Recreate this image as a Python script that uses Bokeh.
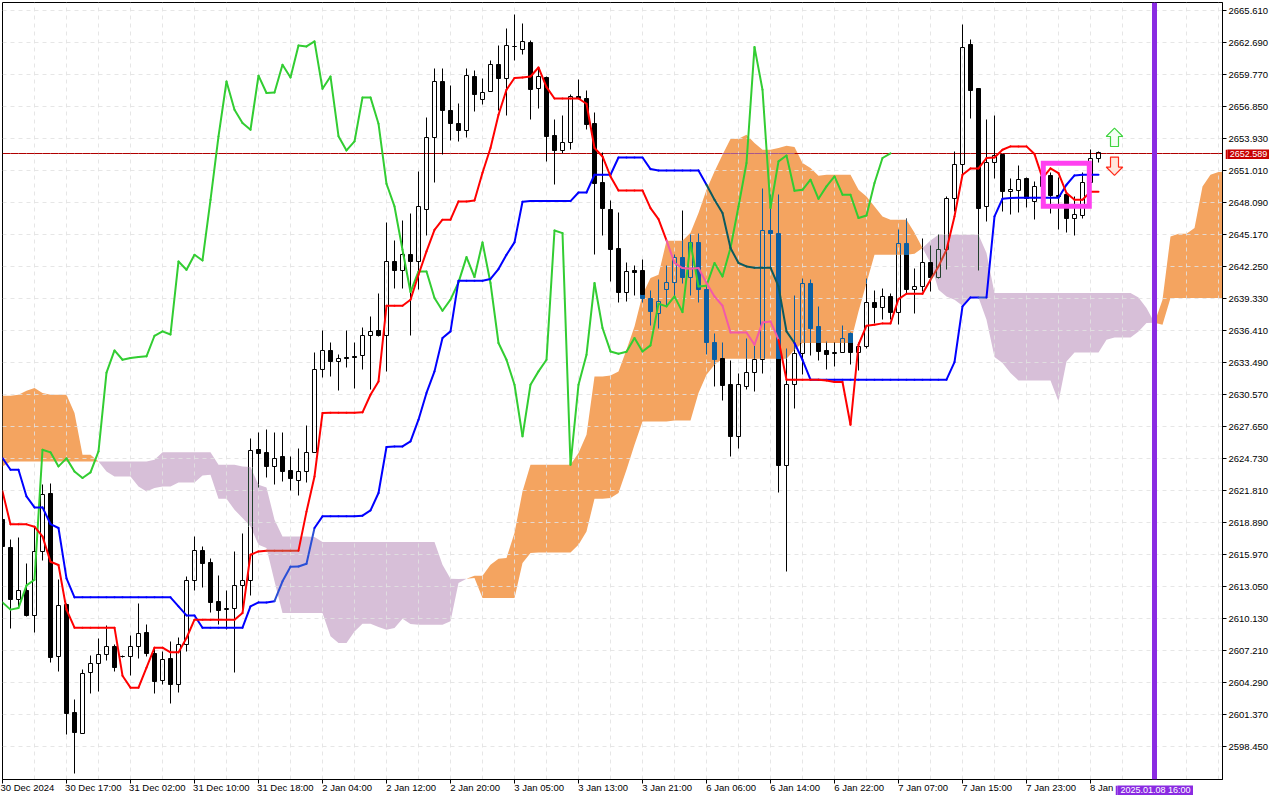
from bokeh.plotting import figure
from bokeh.embed import file_html
from bokeh.resources import INLINE
from bokeh.layouts import column
from bokeh.core.properties import value
from bokeh.models import Range1d, FixedTicker, NumeralTickFormatter, Span

opens = [
2619.15,2616.59,2611.88,2612.73,2610.36,2616.20,2621.52,2606.62,2611.39,2601.54,
2599.68,2605.16,2605.98,2606.89,2607.53,2606.69,2606.62,2607.53,2608.81,2606.98,
2604.43,2606.52,2604.15,2607.80,2613.64,2616.38,2615.22,2611.66,2610.91,2611.05,
2613.10,2613.64,2625.53,2625.26,2624.01,2624.89,2623.62,2622.68,2623.50,2625.32,
2632.89,2634.63,2633.59,2633.93,2634.02,2634.14,2635.91,2636.39,2635.98,2642.75,
2641.89,2643.39,2642.71,2647.49,2654.06,2659.17,2656.53,2655.34,2654.66,2659.63,
2657.53,2658.26,2660.72,2659.45,2662.33,2662.09,2662.73,2658.53,2659.54,2654.18,
2652.84,2653.57,2657.77,2657.56,2655.28,2649.89,2647.43,2643.87,2639.88,2641.84,
2641.84,2639.31,2638.00,2640.19,2640.83,2643.11,2641.25,2644.48,2640.19,2635.36,
2633.81,2631.44,2626.75,2631.34,2632.62,2633.72,2645.58,2645.30,2624.10,2631.44,
2634.27,2640.74,2636.75,2634.54,2634.27,2634.41,2636.18,2634.41,2634.96,2638.92,
2638.55,2639.55,2638.06,2644.39,2640.16,2640.43,2642.57,2641.29,2643.84,2648.41,
2651.60,2662.55,2658.47,2647.68,2651.78,2652.45,2649.10,2649.19,2650.32,2648.19,
2649.59,2650.53,2648.73,2648.80,2646.67,2646.91,2649.95,2652.14]
closes = [
2616.68,2611.88,2612.73,2610.41,2616.23,2621.49,2606.58,2611.36,2601.47,2599.74,
2605.07,2605.98,2606.89,2607.53,2605.67,2606.64,2607.62,2608.72,2606.95,2604.39,
2606.43,2604.15,2607.80,2613.64,2616.38,2615.16,2611.60,2610.87,2611.05,2613.10,
2613.64,2625.50,2625.19,2624.01,2624.77,2623.55,2622.91,2623.50,2625.32,2632.89,
2634.63,2633.59,2633.90,2633.86,2633.97,2635.91,2636.36,2635.96,2642.75,2641.89,
2643.39,2642.71,2647.68,2654.06,2659.17,2656.49,2655.30,2654.66,2659.72,2657.95,
2658.13,2660.72,2659.41,2662.46,2662.28,2662.82,2658.41,2659.63,2654.12,2652.84,
2653.57,2657.77,2657.62,2655.20,2649.80,2647.52,2643.84,2639.88,2641.75,2641.72,
2639.37,2638.15,2639.06,2640.83,2643.11,2641.25,2644.48,2640.13,2635.33,2633.77,
2631.40,2626.75,2631.44,2632.62,2633.72,2645.58,2645.27,2624.10,2631.44,2634.27,
2640.74,2636.57,2634.50,2634.23,2634.41,2635.72,2634.41,2634.99,2638.92,2638.52,
2639.52,2638.06,2644.39,2640.16,2640.47,2642.57,2641.25,2643.84,2648.41,2651.60,
2662.27,2658.32,2647.52,2651.78,2652.42,2649.10,2649.32,2650.23,2648.41,2649.59,
2650.50,2648.73,2648.68,2646.64,2646.95,2649.95,2652.11,2652.63]
highs = [
2619.60,2617.38,2617.50,2615.13,2618.41,2622.34,2622.49,2613.73,2611.54,2602.78,
2605.52,2606.74,2608.29,2609.47,2607.74,2606.74,2608.56,2611.48,2609.57,2607.47,
2607.08,2608.01,2608.44,2613.97,2617.57,2616.66,2615.65,2614.03,2612.67,2616.20,
2617.87,2626.51,2627.06,2627.36,2627.06,2627.06,2624.87,2625.60,2627.78,2634.36,
2636.39,2635.27,2634.20,2636.39,2635.32,2636.66,2637.67,2639.83,2646.22,2644.60,
2646.43,2647.13,2650.96,2655.82,2660.36,2660.36,2658.81,2657.10,2660.36,2660.11,
2659.45,2661.02,2662.46,2664.01,2665.29,2664.40,2662.85,2660.36,2659.56,2655.70,
2656.00,2657.92,2659.29,2658.29,2656.34,2652.63,2648.25,2647.22,2642.57,2642.32,
2642.87,2640.04,2641.04,2642.32,2643.32,2647.34,2645.21,2645.30,2640.77,2636.11,
2635.27,2633.65,2632.47,2635.66,2635.05,2649.34,2648.80,2648.86,2634.75,2639.58,
2641.13,2641.04,2638.58,2635.45,2635.36,2636.85,2636.21,2635.30,2641.13,2640.10,
2640.22,2639.77,2645.67,2646.67,2642.11,2644.78,2644.15,2645.15,2648.64,2652.72,
2664.31,2662.94,2658.47,2655.64,2656.01,2652.45,2650.32,2651.44,2650.35,2650.05,
2651.00,2650.83,2650.35,2648.80,2648.64,2650.81,2652.97,2652.72]
lows = [
2615.95,2609.23,2611.23,2610.32,2608.86,2615.43,2606.12,2605.28,2599.56,2596.00,
2599.68,2603.30,2603.45,2606.30,2605.28,2606.55,2604.94,2606.46,2606.62,2603.30,
2604.12,2602.38,2603.39,2607.13,2612.70,2612.97,2610.69,2609.59,2609.17,2605.21,
2610.66,2612.21,2622.09,2622.98,2622.37,2622.64,2621.82,2621.36,2622.55,2625.26,
2632.13,2632.22,2630.94,2633.04,2631.12,2632.86,2631.00,2635.87,2632.68,2640.25,
2640.25,2635.96,2640.19,2645.08,2649.92,2652.48,2653.75,2653.66,2654.03,2656.40,
2657.01,2658.20,2656.49,2656.03,2661.05,2661.57,2655.67,2656.67,2651.84,2649.71,
2652.60,2652.90,2657.56,2654.73,2643.32,2645.06,2640.89,2638.97,2639.06,2639.61,
2638.97,2636.87,2636.57,2638.61,2639.37,2640.74,2639.61,2638.97,2634.23,2631.31,
2630.03,2624.92,2625.65,2631.00,2630.85,2632.49,2642.14,2621.64,2614.43,2629.30,
2632.37,2634.14,2633.65,2632.83,2633.10,2634.41,2633.29,2632.77,2634.75,2637.09,
2637.39,2637.39,2636.96,2639.67,2637.97,2639.98,2639.98,2641.20,2642.02,2647.25,
2650.62,2655.76,2641.89,2646.36,2650.26,2647.25,2646.97,2647.18,2647.61,2646.52,
2648.50,2647.13,2645.60,2645.39,2645.08,2646.61,2649.89,2651.72]

tenkan = [
2621.73,2618.72,2618.72,2618.72,2618.51,2617.62,2615.31,2615.01,2610.94,2609.29,
2609.29,2609.29,2609.29,2609.29,2609.29,2604.91,2603.82,2603.82,2605.64,2607.47,
2607.47,2607.04,2607.04,2608.35,2610.02,2610.02,2610.02,2610.02,2610.02,2610.02,
2610.63,2615.95,2616.25,2616.32,2616.32,2616.32,2616.32,2616.32,2619.88,2623.09,
2628.88,2628.91,2628.91,2628.91,2628.91,2628.94,2630.55,2631.76,2638.67,2638.67,
2638.67,2639.22,2641.50,2643.63,2645.60,2646.52,2646.52,2648.19,2648.19,2648.28,
2650.80,2653.06,2656.10,2658.38,2659.45,2659.50,2659.59,2660.41,2658.62,2657.58,
2657.58,2657.58,2657.58,2657.10,2653.06,2652.29,2650.47,2649.19,2649.19,2649.19,
2649.19,2647.58,2646.58,2644.63,2642.57,2642.11,2642.05,2642.11,2640.74,2639.52,
2638.67,2636.23,2636.23,2636.23,2635.11,2637.15,2637.24,2635.57,2631.92,2631.92,
2631.92,2631.92,2631.92,2631.85,2631.71,2631.71,2627.81,2635.11,2636.85,2636.94,
2637.06,2637.06,2639.28,2639.76,2639.76,2639.76,2641.04,2642.26,2643.78,2646.82,
2650.62,2651.20,2651.20,2652.15,2652.20,2652.90,2653.21,2653.21,2653.21,2652.51,
2650.32,2651.20,2650.78,2648.95,2648.34,2648.34,2649.07,2649.07]
kijun = [
2624.77,2623.70,2623.70,2621.27,2620.27,2620.27,2618.75,2618.39,2613.79,2612.06,
2612.06,2612.06,2612.06,2612.06,2612.06,2612.06,2612.06,2612.06,2612.06,2612.06,
2612.06,2612.06,2611.23,2610.41,2610.41,2609.29,2609.29,2609.29,2609.29,2609.29,
2609.29,2611.23,2611.60,2611.60,2611.71,2613.52,2614.86,2614.88,2615.13,2618.39,
2619.45,2619.45,2619.45,2619.45,2619.45,2619.51,2619.99,2621.58,2625.78,2625.83,
2625.83,2626.29,2628.27,2630.71,2632.68,2635.73,2636.33,2640.95,2640.95,2640.95,
2640.95,2641.11,2642.02,2643.32,2644.45,2648.16,2648.22,2648.22,2648.22,2648.22,
2648.22,2648.22,2649.00,2649.00,2650.62,2650.62,2650.62,2652.20,2652.20,2652.20,
2652.20,2651.14,2651.02,2651.02,2651.02,2651.02,2651.02,2651.02,2649.71,2648.34,
2647.13,2643.94,2642.57,2642.26,2642.14,2642.14,2642.14,2640.43,2636.33,2635.27,
2633.74,2631.92,2631.92,2631.92,2631.92,2631.92,2631.92,2631.92,2631.92,2631.92,
2631.92,2631.92,2631.92,2631.92,2631.92,2631.92,2631.92,2631.92,2631.92,2633.53,
2638.61,2639.43,2639.43,2639.43,2646.82,2648.43,2648.50,2648.52,2648.52,2648.52,
2648.52,2648.52,2648.52,2649.71,2650.56,2650.62,2650.62,2650.62]
chikou = [
2611.60,2610.94,2611.09,2613.15,2613.67,2625.53,2625.29,2624.01,2624.74,2623.55,
2622.95,2623.46,2625.38,2632.56,2634.59,2633.74,2633.90,2633.99,2634.05,2635.93,
2636.33,2636.05,2642.71,2641.95,2643.32,2642.80,2648.34,2654.12,2659.13,2656.55,
2655.34,2654.73,2659.66,2658.08,2658.13,2660.66,2659.50,2662.42,2662.33,2662.79,
2658.47,2659.59,2654.14,2652.84,2653.66,2657.68,2657.68,2655.28,2649.80,2647.73,
2643.78,2639.92,2641.80,2641.80,2639.37,2638.21,2639.22,2640.80,2643.11,2641.29,
2644.45,2640.74,2635.27,2633.74,2631.46,2626.75,2631.46,2632.68,2633.74,2645.54,
2645.30,2624.16,2631.46,2634.20,2640.74,2636.64,2634.50,2634.29,2634.47,2635.72,
2634.50,2635.05,2638.85,2638.61,2639.52,2638.09,2644.39,2640.43,2640.50,2642.57,
2641.34,2643.94,2647.73,2651.69,2662.27,2658.38,2647.59,2651.84,2652.38,2649.16,
2649.25,2650.17,2648.43,2649.56,2650.47,2648.80,2648.80,2646.67,2646.91,2649.87,
2652.15,2652.57]
span_a = [
2630.46,2630.46,2630.55,2630.92,2631.16,2630.71,2630.55,2630.55,2630.55,2628.88,
2625.08,2625.08,2624.46,2623.55,2623.09,2623.09,2623.09,2622.18,2621.73,2622.04,
2622.18,2622.18,2622.55,2622.55,2622.55,2623.19,2623.25,2621.06,2621.06,2620.06,
2619.30,2618.53,2616.86,2616.56,2613.52,2610.63,2610.63,2610.63,2610.63,2610.63,
2610.63,2608.50,2607.90,2607.90,2608.95,2609.65,2609.65,2609.35,2609.11,2609.26,
2610.11,2609.63,2609.57,2609.57,2609.57,2609.57,2609.87,2613.37,2613.76,2614.04,
2614.04,2615.04,2615.59,2615.65,2617.93,2621.73,2624.16,2624.16,2624.16,2624.16,
2624.16,2624.16,2625.23,2626.90,2632.22,2632.22,2632.31,2632.68,2634.66,2636.78,
2639.67,2641.20,2641.50,2644.60,2644.60,2644.60,2645.33,2647.13,2649.25,2650.92,
2652.45,2653.88,2653.91,2654.27,2653.51,2652.90,2652.90,2653.06,2653.27,2653.15,
2651.69,2651.23,2650.53,2650.62,2650.62,2650.62,2650.62,2649.25,2648.64,2647.73,
2646.82,2646.52,2646.52,2646.52,2645.33,2643.94,2642.57,2640.13,2639.52,2639.22,
2638.67,2639.52,2639.43,2637.39,2633.99,2633.44,2632.53,2631.85,2631.85,2631.85,
2631.85,2631.85,2629.94,2633.59,2634.41,2634.41,2634.41,2634.41,2635.57,2635.78,
2635.78,2635.78,2636.33,2637.09,2637.12,2639.22,2644.99,2645.24,2645.24,2645.76,
2649.56,2650.62,2650.87,2650.92]
span_b = [
2624.01,2624.46,2624.46,2624.46,2624.46,2624.46,2624.46,2624.46,2624.46,2624.46,
2624.46,2624.46,2624.46,2624.46,2624.46,2624.46,2624.46,2624.46,2624.46,2624.62,
2625.29,2625.29,2625.29,2625.29,2625.29,2625.29,2625.29,2624.16,2624.16,2624.16,
2624.01,2623.95,2622.34,2622.09,2619.15,2617.62,2617.62,2617.62,2617.62,2617.57,
2617.11,2617.11,2617.11,2617.11,2617.11,2617.11,2617.11,2617.11,2617.11,2617.11,
2617.11,2617.11,2617.11,2617.11,2617.11,2615.04,2613.76,2613.73,2613.76,2613.83,
2612.00,2612.00,2612.00,2612.00,2612.00,2615.19,2616.11,2616.16,2616.16,2616.16,
2616.16,2616.16,2616.86,2618.08,2621.06,2621.06,2621.12,2621.58,2623.71,2625.99,
2628.11,2628.11,2628.11,2628.11,2628.20,2628.20,2628.20,2630.71,2632.37,2633.29,
2633.84,2633.84,2633.84,2633.84,2633.84,2633.84,2633.84,2633.84,2633.84,2634.66,
2635.27,2635.27,2635.27,2635.27,2635.27,2635.27,2635.27,2638.15,2640.74,2643.32,
2643.32,2643.32,2643.32,2643.32,2643.41,2643.94,2644.63,2645.15,2645.15,2645.15,
2645.15,2645.15,2645.15,2643.48,2639.83,2639.83,2639.83,2639.83,2639.83,2639.83,
2639.83,2639.83,2639.83,2639.83,2639.83,2639.83,2639.83,2639.83,2639.83,2639.83,
2639.83,2639.83,2639.43,2638.46,2637.12,2636.94,2639.37,2639.37,2639.37,2639.37,
2639.37,2639.37,2639.37,2639.37]

price_ticks = [2665.61,2662.69,2659.77,2656.85,2653.93,2651.01,2648.09,2645.17,2642.25,2639.33,
               2636.41,2633.49,2630.57,2627.65,2624.73,2621.81,2618.89,2615.97,2613.05,2610.13,
               2607.21,2604.29,2601.37,2598.45]
time_labels = ["30 Dec 2024","30 Dec 17:00","31 Dec 02:00","31 Dec 10:00","31 Dec 18:00","2 Jan 04:00",
               "2 Jan 12:00","2 Jan 20:00","3 Jan 05:00","3 Jan 13:00","3 Jan 21:00","6 Jan 06:00",
               "6 Jan 14:00","6 Jan 22:00","7 Jan 07:00","7 Jan 15:00","7 Jan 23:00","8 Jan"]
time_label_bars = [0,8,16,24,32,40,48,56,64,72,80,88,96,104,112,120,128,136]
last_price = 2652.589
last_price_text = "2652.589"
cursor_bar = 144
cursor_text = "2025.01.08 16:00"
box_bars = [130.1, 135.85]
box_prices = [2647.75, 2651.67]
arrow_bar = 139.0
up_arrow_tip = 2654.88
down_arrow_tip = 2650.56

for name, arr, n in [("o",opens,138),("c",closes,138),("h",highs,138),("l",lows,138),("t",tenkan,138),
                     ("k",kijun,138),("ch",chikou,112),("a",span_a,154),("b",span_b,154)]:
    if len(arr) != n:
        raise ValueError(f"{name} {len(arr)}")

PX_X = 1/8.0
PX_Y = 2.92/32
TOP = 2666.34
FONT = "Liberation Sans"
FS = "9.5px"


def snap(v):
    return TOP - round((TOP - v) / PX_Y) * PX_Y


p = figure(width=1280, height=800, output_backend="svg", toolbar_location=None,
           x_range=Range1d(0, 152.5), y_range=Range1d(TOP - 777 * PX_Y, TOP),
           y_axis_location="right", min_border_left=2, min_border_top=2,
           min_border_right=58, min_border_bottom=21, background_fill_color="white",
           border_fill_color="white", outline_line_color="black", outline_line_width=1)

centers = [b + len(t) * 0.28 for b, t in zip(time_label_bars, time_labels)]
p.xaxis.ticker = FixedTicker(ticks=centers, minor_ticks=time_label_bars)
p.xaxis.major_label_overrides = {c: t for c, t in zip(centers, time_labels)}
p.xaxis.major_tick_line_color = None
p.xaxis.major_tick_out = 0
p.xaxis.major_tick_in = 0
p.xaxis.minor_tick_out = 4
p.xaxis.minor_tick_in = 0
p.xaxis.minor_tick_line_color = "black"
p.xaxis.major_label_standoff = -2
p.yaxis.ticker = FixedTicker(ticks=price_ticks)
p.yaxis.formatter = NumeralTickFormatter(format="0.000")
p.yaxis.major_tick_out = 4
p.yaxis.major_tick_in = 0
p.yaxis.minor_tick_line_color = None
p.yaxis.major_label_standoff = 2
for ax in (p.xaxis, p.yaxis):
    ax.major_label_text_font = FONT
    ax.major_label_text_font_size = FS
    ax.major_label_text_color = "black"
    ax.axis_line_color = "black"

p.xgrid.ticker = FixedTicker(ticks=list(range(4, 153, 4)))
p.ygrid.ticker = FixedTicker(ticks=price_ticks)
for g in (p.xgrid, p.ygrid):
    g.grid_line_color = "#e2e2e2"
    g.grid_line_dash = "4 4"
    g.grid_line_alpha = 0.85

ORANGE = "#F4A460"
THISTLE = "#D7BFD8"
ink = {"n": "#000000", "o": "#0b5fa3", "t": "#22402c"}


def zone_at(x, y):
    i = min(max(int(x), 0), len(span_a) - 2)
    f = x - i
    a = span_a[i] * (1 - f) + span_a[i + 1] * f
    b = span_b[i] * (1 - f) + span_b[i + 1] * f
    if min(a, b) <= y <= max(a, b):
        return "o" if a >= b else "t"
    return "n"


def pieces(lo, hi, k):
    if hi <= lo:
        return [(lo, hi, zone_at(k, lo))]
    a, b = span_a[k], span_b[k]
    top, bot = max(a, b), min(a, b)
    z = "o" if a >= b else "t"
    cuts = sorted({lo, hi, *[snap(v) for v in (top, bot) if lo < v < hi]})
    out = []
    for c0, c1 in zip(cuts[:-1], cuts[1:]):
        out.append((c0, c1, z if bot <= (c0 + c1) / 2 <= top else "n"))
    return out


# white bull bodies sit beneath the cloud
bull = [k for k in range(138) if closes[k] >= opens[k]]
r = p.vbar(x=bull, bottom=[snap(opens[k]) for k in bull], top=[snap(closes[k]) for k in bull], width=0.5,
           fill_color="white", line_color=None)
r.level = "image"

# cloud
runs = []
for k in range(len(span_a) - 1):
    z = "o" if span_a[k] + span_a[k + 1] >= span_b[k] + span_b[k + 1] else "t"
    if runs and runs[-1][0] == z:
        runs[-1][1].append(k + 1)
    else:
        runs.append((z, [k, k + 1]))
for z, ks in runs:
    r = p.varea(x=ks, y1=[span_a[k] for k in ks], y2=[span_b[k] for k in ks],
                fill_color=ORANGE if z == "o" else THISTLE)
    r.level = "image"

# current price line
hx0, hx1, hc = [], [], []
for k in range(153):
    z = zone_at(k + 0.5, last_price)
    hx0.append(k); hx1.append(k + 1)
    hc.append("#a8588c" if z == "o" else "#b00000")
p.segment(x0=hx0, y0=[snap(last_price)] * 153, x1=hx1, y1=[snap(last_price)] * 153, line_color=hc, line_width=1)

# candles
sx0, sy0, sx1, sy1, sc = [], [], [], [], []
bx, bb, bt, bc = [], [], [], []


def seg(x0, y0, x1, y1, c):
    sx0.append(x0); sy0.append(y0); sx1.append(x1); sy1.append(y1); sc.append(c)


for k in range(138):
    o, c, h, l = snap(opens[k]), snap(closes[k]), snap(highs[k]), snap(lows[k])
    top, bot = max(o, c), min(o, c)
    for lo, hi, z in pieces(top, h, k):
        seg(k, lo, k, hi, ink[z])
    for lo, hi, z in pieces(l, bot, k):
        seg(k, lo, k, hi, ink[z])
    if closes[k] >= opens[k]:
        for lo, hi, z in pieces(bot, top, k):
            seg(k - 0.25, lo, k - 0.25, hi, ink[z])
            seg(k + 0.25, lo, k + 0.25, hi, ink[z])
        seg(k - 0.25, top, k + 0.25, top, ink[zone_at(k, top)])
        seg(k - 0.25, bot, k + 0.25, bot, ink[zone_at(k, bot)])
    else:
        for lo, hi, z in pieces(bot, top, k):
            bx.append(k); bb.append(lo); bt.append(hi); bc.append(ink[z])
p.segment(x0=sx0, y0=sy0, x1=sx1, y1=sy1, line_color=sc, line_width=1)
p.vbar(x=bx, bottom=bb, top=bt, width=0.5, fill_color=bc, line_color=bc, line_width=1)


def ichi(values, colors):
    x0, y0, x1, y1, cs = [], [], [], [], []
    for k in range(len(values) - 1):
        x0.append(k); y0.append(values[k]); x1.append(k + 1); y1.append(values[k + 1])
        cs.append(colors[zone_at(k + 0.5, (values[k] + values[k + 1]) / 2)])
    p.segment(x0=x0, y0=y0, x1=x1, y1=y1, line_color=cs, line_width=2, line_cap="round")


ichi(chikou, {"n": "#32CD32", "o": "#32CD32", "t": "#32CD32"})
ichi(kijun, {"n": "#0000FF", "o": "#0b5a5f", "t": "#2a4fd6"})
ichi(tenkan, {"n": "#FF0000", "o": "#f25aa8", "t": "#d63e2c"})

# signal box
p.quad(left=[box_bars[0]], right=[box_bars[1]], bottom=[box_prices[0]], top=[box_prices[1]],
       fill_color=None, line_color="#ff40f0", line_width=5, line_join="miter")

# arrows
up_dx = [0, 8.3, 4, 4, -4, -4, -8.3]
up_dy = [0, 8.4, 8.4, 18.4, 18.4, 8.4, 8.4]
p.patch(x=[arrow_bar + d * PX_X for d in up_dx], y=[up_arrow_tip - d * PX_Y for d in up_dy],
        fill_color="#f4fff4", line_color="#3fd43f", line_width=1.2)
p.patch(x=[arrow_bar + d * PX_X for d in up_dx], y=[down_arrow_tip + d * PX_Y for d in up_dy],
        fill_color="#ffe6dc", line_color="#ff2a1a", line_width=1.2)

p.add_layout(Span(location=cursor_bar, dimension="height", line_color="#8A2BE2", line_width=5))


def flag(text, color, left, top, width, height):
    f = figure(frame_width=width, frame_height=height, output_backend="svg", toolbar_location=None,
               x_range=Range1d(0, width), y_range=Range1d(0, height), x_axis_type=None, y_axis_type=None,
               min_border_left=0, min_border_right=0, min_border_top=0, min_border_bottom=0, min_border=0,
               outline_line_color=None, background_fill_color=color, border_fill_color=color)
    f.styles = {"position": "absolute", "left": f"{left}px", "top": f"{top}px", "z-index": "5"}
    f.grid.visible = False
    f.text(x=[width / 2 - 1], y=[height / 2 + 1], text=[text], text_color="white", text_font=value(FONT),
           text_font_size=value("9px"), text_align="center", text_baseline="middle")
    return f


root = column(p, flag(last_price_text, "#C80000", 1225, 148, 44, 11),
              flag(cursor_text, "#8A2BE2", 1115, 784, 78, 11), width=1280, height=800, spacing=0)
root.styles = {"position": "absolute", "left": "0px", "top": "0px"}

open("out.html", "w").write(file_html(root, INLINE))
